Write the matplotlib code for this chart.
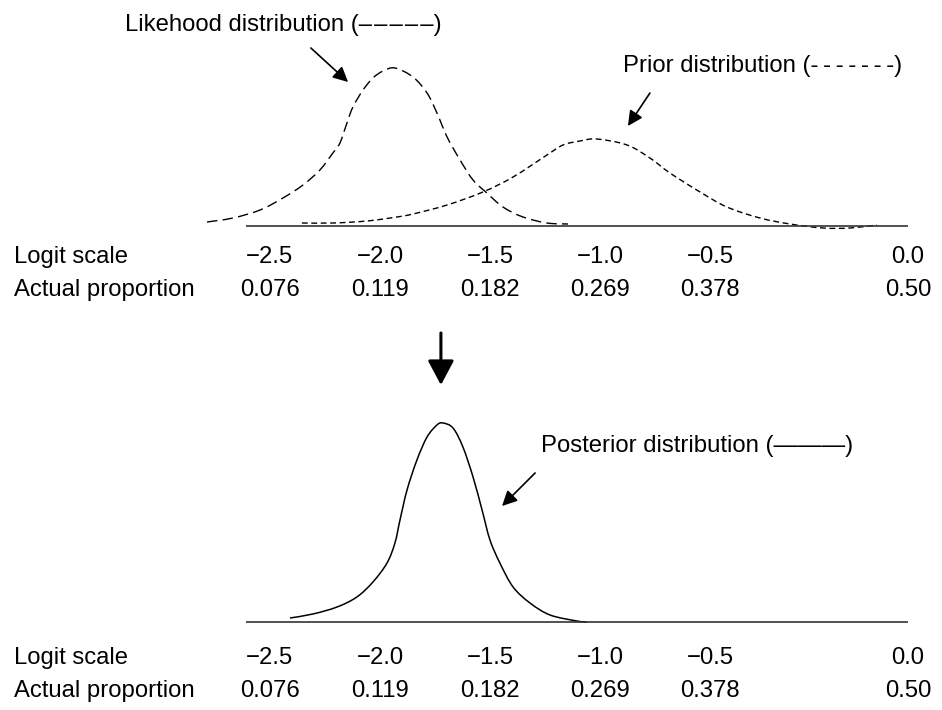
import matplotlib
matplotlib.use("Agg")
import matplotlib.pyplot as plt
from matplotlib.path import Path
from matplotlib.patches import PathPatch

plt.rcParams['font.family'] = ['Liberation Sans', 'DejaVu Sans']

# ---- data (x in logit units, y = relative density) ----
lik_x = [-2.786, -2.668, -2.545, -2.441, -2.35, -2.273, -2.214, -2.182, -2.15,
         -2.123, -2.077, -2.032, -1.986, -1.932, -1.85, -1.786, -1.741, -1.695,
         -1.636, -1.577, -1.514, -1.441, -1.35, -1.241, -1.145]
lik_y = [0.04, 0.08, 0.16, 0.28, 0.41, 0.56, 0.73, 0.83, 1.03, 1.19, 1.36, 1.48,
         1.55, 1.58, 1.49, 1.33, 1.13, 0.89, 0.66, 0.46, 0.33, 0.19, 0.09, 0.03, 0.02]

prior_x = [-2.355, -2.214, -2.059, -1.923, -1.85, -1.695, -1.532, -1.395, -1.241,
           -1.168, -1.091, -1.014, -0.877, -0.773, -0.682, -0.545, -0.423, -0.273,
           -0.136, 0.014, 0.136, 0.259]
prior_y = [0.03, 0.03, 0.05, 0.09, 0.12, 0.21, 0.34, 0.49, 0.71, 0.81, 0.85, 0.87,
           0.81, 0.68, 0.53, 0.34, 0.19, 0.08, 0.02, -0.02, -0.02, 0.01]

post_x = [-2.409, -2.305, -2.195, -2.105, -2.032, -1.968, -1.932, -1.909, -1.877,
          -1.832, -1.786, -1.741, -1.714, -1.668, -1.623, -1.577, -1.536, -1.5,
          -1.455, -1.395, -1.318, -1.227, -1.105, -1.059]
post_y = [0.04, 0.08, 0.15, 0.25, 0.40, 0.59, 0.79, 1.02, 1.32, 1.62, 1.85, 1.97,
          1.99, 1.94, 1.75, 1.45, 1.12, 0.82, 0.59, 0.35, 0.19, 0.07, 0.01, 0.0]

logit_ticks = [-2.5, -2.0, -1.5, -1.0, -0.5, 0.0]
logit_labels = ['\u22122.5', '\u22122.0', '\u22121.5', '\u22121.0', '\u22120.5', '0.0']
prop_labels = ['0.076', '0.119', '0.182', '0.269', '0.378', '0.50']

row_names = ['Logit scale', 'Actual proportion']
lik_name = 'Likehood distribution (' + '\u200a'.join(['\u2013'] * 5) + ')'
prior_name = 'Prior distribution (' + '\u2009'.join(['-'] * 7) + ')'
post_name = 'Posterior distribution (\u2014\u2014\u2014)'

# ---- layout ----
W, H = 942, 710
fig = plt.figure(figsize=(W / 100, H / 100), dpi=100)

XMIN, XMAX = -3.727, 0.5545          # full figure width in logit units
AX_START, AX_END = -2.61, 0.40       # baseline extent
label_pos = logit_ticks[:-1] + [AX_END]

FS = 17.2


def smooth_path(xs, ys):
    """Catmull-Rom curve through the read points, as cubic Bezier segments."""
    pts = list(zip(xs, ys))
    verts = [pts[0]]
    codes = [Path.MOVETO]
    n = len(pts)
    for i in range(n - 1):
        p0 = pts[i - 1] if i > 0 else pts[i]
        p1 = pts[i]
        p2 = pts[i + 1]
        p3 = pts[i + 2] if i + 2 < n else pts[i + 1]
        c1 = (p1[0] + (p2[0] - p0[0]) / 6, p1[1] + (p2[1] - p0[1]) / 6)
        c2 = (p2[0] - (p3[0] - p1[0]) / 6, p2[1] - (p3[1] - p1[1]) / 6)
        verts += [c1, c2, p2]
        codes += [Path.CURVE4] * 3
    return Path(verts, codes)


def draw_curve(ax, xs, ys, **kw):
    patch = PathPatch(smooth_path(xs, ys), fill=False, edgecolor='black', **kw)
    ax.add_patch(patch)


def panel(bottom_px, top_px, base_px):
    ax = fig.add_axes([0, 1 - bottom_px / H, 1, (bottom_px - top_px) / H])
    ax.set_xlim(XMIN, XMAX)
    ax.set_ylim((base_px - bottom_px) / 100, (base_px - top_px) / 100)
    ax.axis('off')
    return ax


def scale_rows(ax, y1, y2):
    ax.plot([AX_START, AX_END], [0, 0], color='#333333', lw=1.2, solid_capstyle='butt')
    ax.text(XMIN + 0.064, y1, row_names[0], fontsize=FS, va='center', ha='left')
    ax.text(XMIN + 0.064, y2, row_names[1], fontsize=FS, va='center', ha='left')
    for p, a, b in zip(label_pos, logit_labels, prop_labels):
        ax.text(p, y1, a, fontsize=FS, va='center', ha='center')
        ax.text(p, y2, b, fontsize=FS, va='center', ha='center')


arrow_kw = dict(arrowstyle='-|>,head_length=0.9,head_width=0.45', color='black',
                lw=1.2, shrinkA=0, shrinkB=0)

# top panel
ax1 = panel(320, 0, 226)
scale_rows(ax1, -0.31, -0.64)
draw_curve(ax1, lik_x, lik_y, lw=1.0, linestyle=(0, (7.5, 3.8)))
draw_curve(ax1, prior_x, prior_y, lw=1.0, linestyle=(0, (4.2, 2.6)))
ax1.text(-3.159, 2.01, lik_name, fontsize=FS, va='center', ha='left')
ax1.text(-0.895, 1.60, prior_name, fontsize=FS, va='center', ha='left')
ax1.annotate('', xy=(-2.145, 1.44), xytext=(-2.314, 1.78), arrowprops=arrow_kw)
ax1.annotate('', xy=(-0.873, 1.00), xytext=(-0.773, 1.33), arrowprops=arrow_kw)

# bottom panel
ax2 = panel(H, 320, 622)
scale_rows(ax2, -0.36, -0.69)
draw_curve(ax2, post_x, post_y, lw=1.1)
ax2.text(-1.268, 1.76, post_name, fontsize=FS, va='center', ha='left')
ax2.annotate('', xy=(-1.445, 1.16), xytext=(-1.295, 1.49), arrowprops=arrow_kw)
ax2.annotate('', xy=(-1.723, 2.37), xytext=(-1.723, 2.89),
             arrowprops=dict(arrowstyle='-|>,head_length=1.5,head_width=0.8',
                             color='black', lw=2.2, shrinkA=0, shrinkB=0))

fig.savefig('out.png', dpi=100)
